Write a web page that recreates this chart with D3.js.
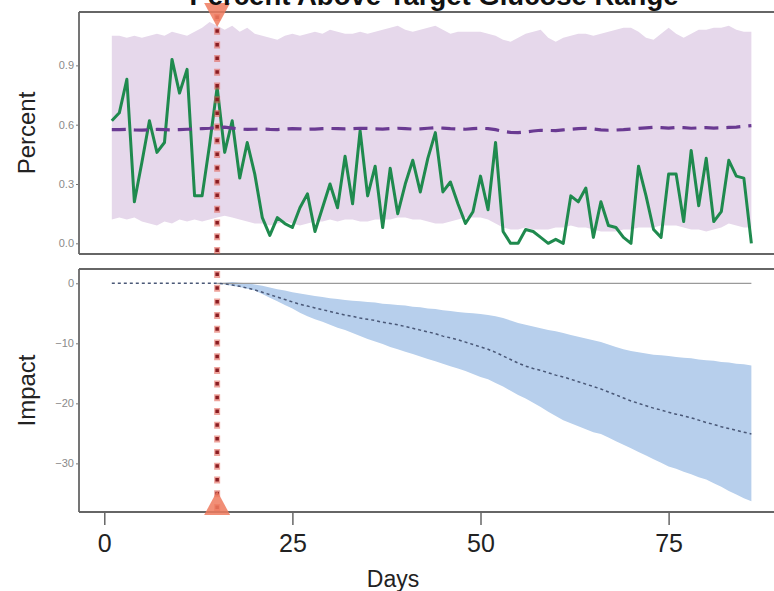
<!DOCTYPE html>
<html><head><meta charset="utf-8">
<script src="https://cdn.jsdelivr.net/npm/d3@7"></script>
<style>html,body{margin:0;padding:0;background:#fff;overflow:hidden;} svg{display:block;}</style>
</head><body><div id="chart"></div>
<script>
// ---------------- data ----------------
const firstDay = 1;
const interventionDay = 15;
const titleText = "Percent Above Target Glucose Range";
const xLabel = "Days";
const topYLabel = "Percent";
const bottomYLabel = "Impact";
const pctTicks = [0, 0.3, 0.6, 0.9];
const impactTicks = [0, -10, -20, -30];
const dayTicks = [0, 25, 50, 75];

// observed daily percent (green)
const pctObserved = [
 0.62,0.66,0.83,0.21,0.41,0.62,0.46,0.51,0.93,0.76,
 0.88,0.24,0.24,0.50,0.79,0.46,0.62,0.33,0.51,0.35,
 0.13,0.04,0.13,0.10,0.08,0.18,0.25,0.06,0.18,0.30,
 0.18,0.44,0.20,0.57,0.24,0.39,0.08,0.38,0.15,0.30,
 0.42,0.26,0.43,0.56,0.26,0.31,0.20,0.10,0.16,0.34,
 0.17,0.51,0.06,0.00,0.00,0.07,0.06,0.03,0.00,0.02,
 0.00,0.24,0.21,0.28,0.03,0.21,0.09,0.08,0.03,0.00,
 0.39,0.24,0.07,0.03,0.35,0.35,0.11,0.47,0.19,0.43,
 0.11,0.16,0.42,0.34,0.33,0.00
];
// predicted (purple dashed)
const pctPredicted = [
 0.575,0.575,0.576,0.574,0.573,0.574,0.576,0.575,0.574,0.575,
 0.577,0.578,0.580,0.582,0.585,0.588,0.583,0.578,0.576,0.577,
 0.578,0.576,0.575,0.578,0.580,0.579,0.577,0.578,0.580,0.581,
 0.580,0.579,0.580,0.582,0.581,0.579,0.578,0.580,0.582,0.580,
 0.578,0.579,0.582,0.585,0.583,0.580,0.578,0.577,0.580,0.582,
 0.580,0.575,0.566,0.561,0.560,0.563,0.568,0.572,0.571,0.570,
 0.574,0.577,0.580,0.582,0.578,0.574,0.572,0.573,0.575,0.578,
 0.581,0.584,0.587,0.585,0.583,0.586,0.585,0.582,0.584,0.585,
 0.583,0.584,0.586,0.588,0.592,0.595
];
// predicted interval (purple band)
const pctUpper = [
 1.05,1.05,1.04,1.05,1.04,1.05,1.06,1.05,1.07,1.06,
 1.05,1.07,1.09,1.12,1.10,1.08,1.10,1.07,1.09,1.06,
 1.05,1.04,1.03,1.05,1.06,1.05,1.06,1.07,1.06,1.08,
 1.07,1.06,1.06,1.07,1.06,1.07,1.08,1.09,1.10,1.08,
 1.07,1.08,1.09,1.10,1.08,1.06,1.07,1.07,1.07,1.07,
 1.06,1.05,1.03,1.02,1.04,1.06,1.07,1.08,1.04,1.02,
 1.04,1.05,1.06,1.06,1.05,1.06,1.07,1.08,1.09,1.09,
 1.07,1.04,1.03,1.06,1.09,1.06,1.04,1.06,1.08,1.08,
 1.09,1.09,1.10,1.08,1.07,1.07
];
const pctLower = [
 0.12,0.13,0.12,0.13,0.11,0.10,0.09,0.11,0.10,0.12,
 0.11,0.12,0.11,0.12,0.13,0.14,0.13,0.12,0.11,0.10,
 0.10,0.09,0.10,0.11,0.10,0.09,0.10,0.11,0.11,0.12,
 0.11,0.12,0.12,0.11,0.11,0.12,0.12,0.12,0.13,0.13,
 0.12,0.12,0.11,0.10,0.10,0.11,0.12,0.13,0.13,0.13,
 0.12,0.10,0.08,0.07,0.07,0.08,0.07,0.07,0.07,0.08,
 0.08,0.09,0.08,0.08,0.07,0.06,0.06,0.06,0.07,0.07,
 0.08,0.08,0.08,0.09,0.09,0.09,0.08,0.07,0.07,0.06,
 0.07,0.08,0.10,0.09,0.08,0.08
];
// cumulative impact point estimate (days 1..86)
const impactMean = [
 0,0,0,0,0,0,0,0,0,0,0,0,0,0,
 0,-0.1,-0.3,-0.5,-0.8,-1.1,-1.5,-1.9,-2.3,-2.7,
 -3.1,-3.5,-3.8,-4.1,-4.4,-4.7,-5.0,-5.3,-5.5,-5.8,
 -6.0,-6.2,-6.5,-6.7,-6.9,-7.2,-7.5,-7.8,-8.1,-8.4,
 -8.8,-9.1,-9.4,-9.8,-10.2,-10.6,-11.0,-11.5,-12.1,-12.7,
 -13.3,-13.8,-14.2,-14.5,-14.9,-15.3,-15.6,-16.0,-16.4,-16.8,
 -17.2,-17.6,-18.1,-18.6,-19.1,-19.6,-20.0,-20.4,-20.8,-21.1,
 -21.5,-21.8,-22.1,-22.4,-22.8,-23.2,-23.5,-23.9,-24.2,-24.5,
 -24.8,-25.1
];
// impact interval (days 15..86)
const impactUpper = [
 0,0.1,0.2,0.1,0,-0.2,-0.4,-0.7,-1.0,-1.2,
 -1.5,-1.7,-1.9,-2.1,-2.3,-2.5,-2.6,-2.8,-2.9,-3.0,
 -3.1,-3.2,-3.4,-3.5,-3.6,-3.7,-3.9,-4.0,-4.2,-4.3,
 -4.5,-4.6,-4.8,-4.9,-5.0,-5.1,-5.3,-5.5,-5.8,-6.2,
 -6.6,-6.9,-7.2,-7.5,-7.8,-8.0,-8.3,-8.6,-8.9,-9.2,
 -9.5,-9.8,-10.2,-10.6,-11.0,-11.3,-11.5,-11.7,-11.9,-12.0,
 -12.1,-12.3,-12.4,-12.5,-12.7,-12.8,-12.9,-13.1,-13.2,-13.4,
 -13.5,-13.7
];
const impactLower = [
 0,-0.2,-0.4,-0.6,-0.9,-1.2,-1.8,-2.4,-3.0,-3.6,
 -4.2,-4.9,-5.5,-6.0,-6.4,-6.9,-7.4,-7.8,-8.3,-8.8,
 -9.3,-9.7,-10.1,-10.6,-11.0,-11.4,-11.8,-12.2,-12.6,-13.0,
 -13.4,-13.8,-14.2,-14.6,-15.1,-15.6,-16.0,-16.6,-17.2,-17.9,
 -18.6,-19.2,-19.9,-20.6,-21.4,-22.1,-22.8,-23.3,-23.8,-24.3,
 -24.8,-25.1,-25.7,-26.3,-26.9,-27.5,-28.1,-28.7,-29.3,-29.9,
 -30.5,-30.9,-31.4,-31.8,-32.3,-32.7,-33.3,-33.9,-34.6,-35.2,
 -35.8,-36.3
];

// ---------------- drawing ----------------
const W = 774, H = 591;
const font = "'Liberation Sans', Arial, Helvetica, sans-serif";
const svg = d3.select("#chart").append("svg").attr("width", W).attr("height", H)
  .style("font-family", font);

const panelLeft = 79, panelRight = 789;
const top1 = 12, bot1 = 254, top2 = 269, bot2 = 512;

const x = d3.scaleLinear().domain([-3.36, 91.0]).range([panelLeft, panelRight]);
const yTop = d3.scaleLinear().domain([-0.054, 1.17]).range([bot1, top1]);
const yBot = d3.scaleLinear().domain([-38.1, 2.38]).range([bot2, top2]);

const dayOf = i => firstDay + i;
const topData = pctObserved.map((v, i) => ({
  d: dayOf(i), obs: v, pred: pctPredicted[i], hi: pctUpper[i], lo: pctLower[i]
}));
const meanData = impactMean.map((v, i) => ({ d: dayOf(i), v }));
const bandData = impactUpper.map((v, i) => ({ d: interventionDay + i, hi: v, lo: impactLower[i] }));

// ---- top panel ----
const gTop = svg.append("g");
gTop.append("path").datum(topData)
  .attr("fill", "#e6d8eb")
  .attr("d", d3.area().x(p => x(p.d)).y0(p => yTop(p.lo)).y1(p => yTop(p.hi)));
gTop.append("path").datum(topData)
  .attr("fill", "none").attr("stroke", "#1f8a4e").attr("stroke-width", 3)
  .attr("stroke-linejoin", "round")
  .attr("d", d3.line().x(p => x(p.d)).y(p => yTop(p.obs)));
gTop.append("path").datum(topData)
  .attr("fill", "none").attr("stroke", "#6a3a92").attr("stroke-width", 3.2)
  .attr("stroke-dasharray", "14,8")
  .attr("d", d3.line().x(p => x(p.d)).y(p => yTop(p.pred)));

// ---- bottom panel ----
const gBot = svg.append("g");
gBot.append("path").datum(bandData)
  .attr("fill", "#b7cfec")
  .attr("d", d3.area().x(p => x(p.d)).y0(p => yBot(p.lo)).y1(p => yBot(p.hi)));
gBot.append("line")
  .attr("x1", x(interventionDay)).attr("x2", x(meanData[meanData.length - 1].d))
  .attr("y1", yBot(0)).attr("y2", yBot(0))
  .attr("stroke", "#9a9a9a").attr("stroke-width", 1.2);
gBot.append("path").datum(meanData)
  .attr("fill", "none").attr("stroke", "#4a5877").attr("stroke-width", 1.5)
  .attr("stroke-dasharray", "3,3")
  .attr("d", d3.line().x(p => x(p.d)).y(p => yBot(p.v)));

// ---- frames ----
function frame(t, b) {
  svg.append("line").attr("x1", panelLeft).attr("x2", panelRight).attr("y1", t).attr("y2", t)
    .attr("stroke", "#666").attr("stroke-width", 1.8);
  svg.append("line").attr("x1", panelLeft).attr("x2", panelRight).attr("y1", b).attr("y2", b)
    .attr("stroke", "#666").attr("stroke-width", 1.8);
  svg.append("line").attr("x1", panelLeft).attr("x2", panelLeft).attr("y1", t).attr("y2", b)
    .attr("stroke", "#666").attr("stroke-width", 1.8);
}
frame(top1, bot1);
frame(top2, bot2);

// ---- axes ----
const axTop = svg.append("g").attr("transform", `translate(${panelLeft},0)`)
  .call(d3.axisLeft(yTop).tickValues(pctTicks).tickFormat(d3.format(".1f")).tickSize(3).tickPadding(2));
const axBot = svg.append("g").attr("transform", `translate(${panelLeft},0)`)
  .call(d3.axisLeft(yBot).tickValues(impactTicks).tickFormat(d3.format("d")).tickSize(3).tickPadding(2));
[axTop, axBot].forEach(a => {
  a.select(".domain").remove();
  a.selectAll(".tick line").attr("stroke", "#777");
  a.selectAll(".tick text").attr("fill", "#8a8a8a").style("font-size", "11px").style("font-family", font);
});
const axX = svg.append("g").attr("transform", `translate(0,${bot2})`)
  .call(d3.axisBottom(x).tickValues(dayTicks).tickFormat(d3.format("d")).tickSize(13).tickPadding(9));
axX.select(".domain").remove();
axX.selectAll(".tick line").attr("stroke", "#666").attr("stroke-width", 1.5);
axX.selectAll(".tick text").attr("fill", "#222").style("font-size", "25px").style("font-family", font);

// ---- intervention markers ----
const xi = x(interventionDay);
[[top1, bot1], [top2, bot2]].forEach(([t, b]) => {
  svg.append("line").attr("x1", xi).attr("x2", xi).attr("y1", t + 2).attr("y2", b)
    .attr("stroke", "#e05a4a").attr("stroke-opacity", 0.55).attr("stroke-width", 6)
    .attr("stroke-dasharray", "7,6.7");
  svg.append("line").attr("x1", xi).attr("x2", xi).attr("y1", t + 3.5).attr("y2", b)
    .attr("stroke", "#8a1c22").attr("stroke-width", 3.5)
    .attr("stroke-dasharray", "3.5,10.2");
});
svg.append("path")
  .attr("d", `M${xi - 13},3 L${xi + 13},3 L${xi},27 Z`)
  .attr("fill", "#ee7a5e").attr("fill-opacity", 0.85);
svg.append("path")
  .attr("d", `M${xi - 13},515 L${xi + 13},515 L${xi},491 Z`)
  .attr("fill", "#ee7a5e").attr("fill-opacity", 0.85);

// ---- titles ----
svg.append("text").attr("x", (panelLeft + panelRight) / 2).attr("y", 5)
  .attr("text-anchor", "middle").style("font-size", "27.5px").style("font-weight", "bold")
  .attr("fill", "#111").text(titleText);
svg.append("text").attr("transform", `translate(35,${(top1 + bot1) / 2}) rotate(-90)`)
  .attr("text-anchor", "middle").style("font-size", "24px").attr("fill", "#222").text(topYLabel);
svg.append("text").attr("transform", `translate(35,${(top2 + bot2) / 2}) rotate(-90)`)
  .attr("text-anchor", "middle").style("font-size", "24px").attr("fill", "#222").text(bottomYLabel);
svg.append("text").attr("x", 393).attr("y", 587)
  .attr("text-anchor", "middle").style("font-size", "23px").attr("fill", "#222").text(xLabel);
</script>
</body></html>
